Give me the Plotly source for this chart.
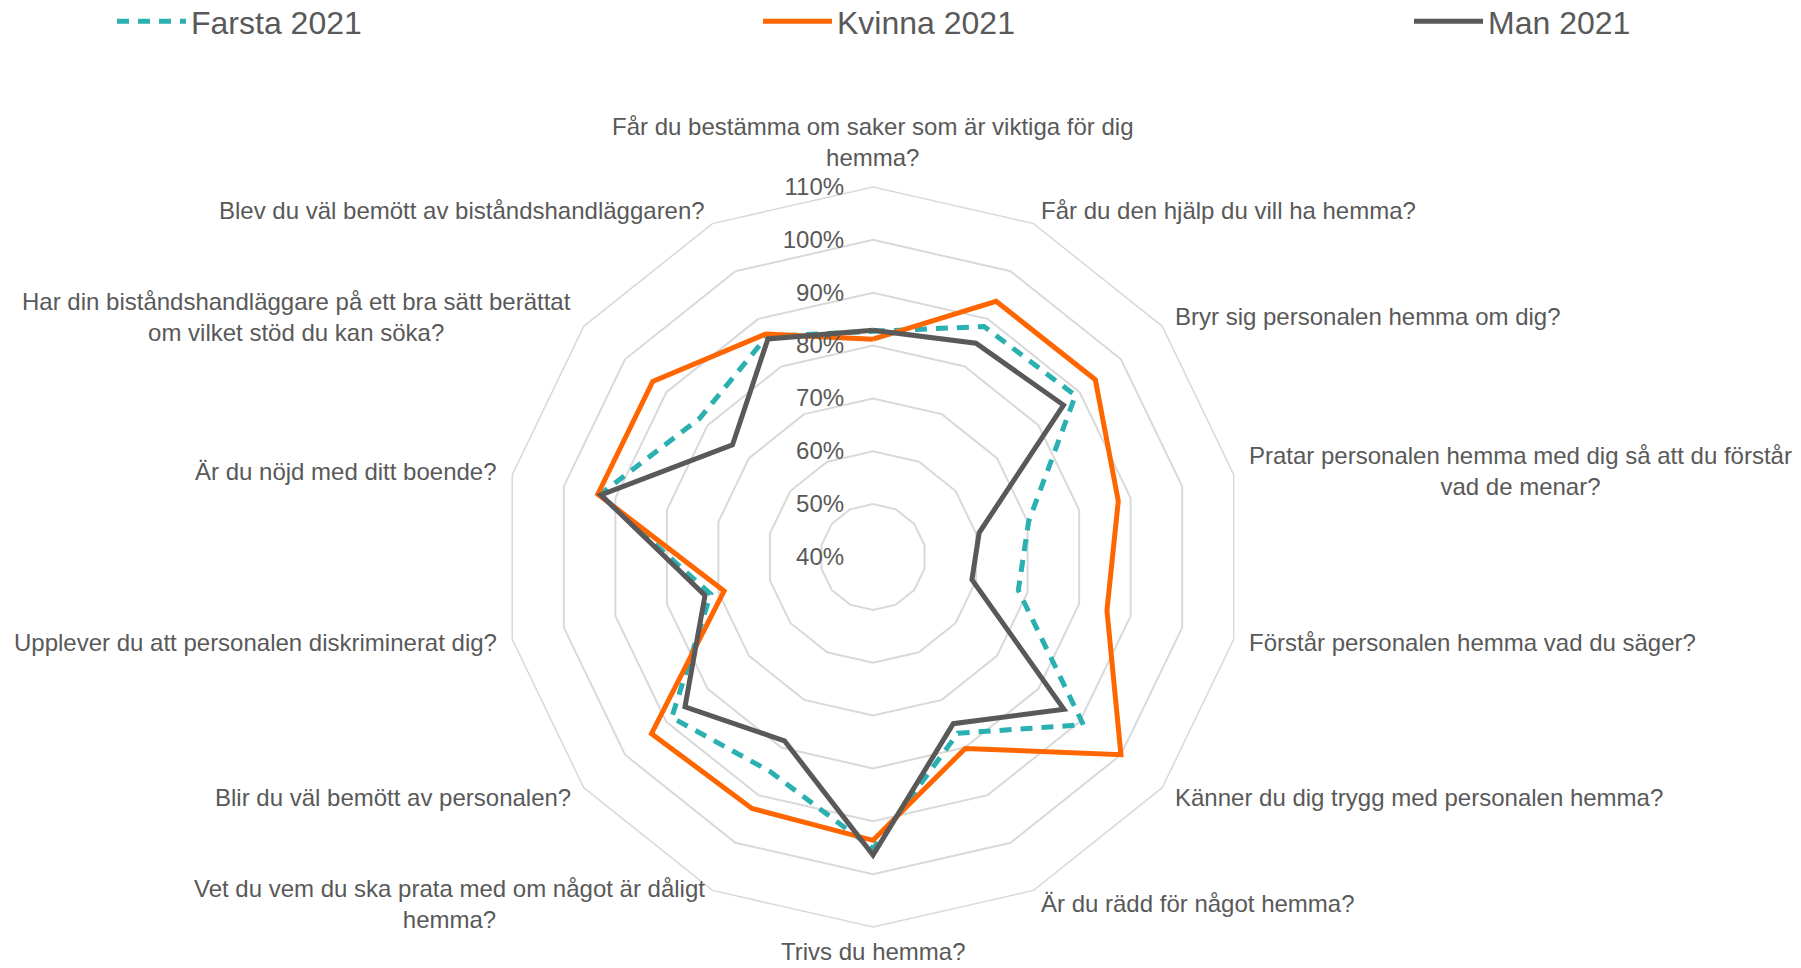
import math
import plotly.graph_objects as go

categories = [
    "Får du bestämma om saker som är viktiga för dig<br>hemma?",
    "Får du den hjälp du vill ha hemma?",
    "Bryr sig personalen hemma om dig?",
    "Pratar personalen hemma med dig så att du förstår<br>vad de menar?",
    "Förstår personalen hemma vad du säger?",
    "Känner du dig trygg med personalen hemma?",
    "Är du rädd för något hemma?",
    "Trivs du hemma?",
    "Vet du vem du ska prata med om något är dåligt<br>hemma?",
    "Blir du väl bemött av personalen?",
    "Upplever du att personalen diskriminerat dig?",
    "Är du nöjd med ditt boende?",
    "Har din biståndshandläggare på ett bra sätt berättat<br>om vilket stöd du kan söka?",
    "Blev du väl bemött av biståndshandläggaren?",
]

farsta_2021 = [82.7, 88.4, 89.0, 70.2, 68.2, 90.9, 77.0, 95.2, 85.0, 88.7, 71.5, 93.0, 82.0, 86.3]
kvinna_2021 = [81.2, 93.7, 93.8, 87.6, 85.4, 100.0, 80.2, 93.6, 92.8, 93.6, 68.9, 93.4, 93.3, 86.8]
man_2021 = [82.9, 84.9, 86.1, 60.6, 59.2, 86.2, 75.0, 96.4, 78.6, 85.5, 72.6, 92.8, 74.0, 85.8]

radial_ticks = [40, 50, 60, 70, 80, 90, 100, 110]
tick_pad = "\u00a0\u00a0\u00a0\u2009"

series = [
    ("Farsta 2021", farsta_2021, "#2BB0B1", "12px,9px", "legend", 118),
    ("Kvinna 2021", kvinna_2021, "#FF6600", "solid", "legend2", 764),
    ("Man 2021", man_2021, "#595959", "solid", "legend3", 1415),
]

W, H = 1801, 968
cx, cy, R = 873, 557, 370   # polar centre and outer radius in px
label_gap = 15
bottom_gap = 10

fig = go.Figure()
legends = {}
for name, vals, color, dash, lg, lx in series:
    fig.add_trace(go.Scatterpolar(
        r=vals + vals[:1],
        theta=categories + categories[:1],
        mode="lines",
        name=name,
        legend=lg,
        showlegend=True,
        line=dict(color=color, width=5, dash=dash),
        hoverinfo="skip",
    ))
    legends[lg] = dict(
        orientation="h",
        xref="paper", yref="paper",
        x=(lx - 6) / W, y=1.0 + 6 / H, xanchor="left", yanchor="top",
        itemwidth=69,
        font=dict(size=32, color="#595959"),
        bgcolor="rgba(0,0,0,0)",
    )

# category labels placed around the outer polygon, Excel style (centred lines)
annotations = []
n = len(categories)
for k, cat in enumerate(categories):
    ang = 2 * math.pi * k / n
    s, c = math.sin(ang), math.cos(ang)
    gap = bottom_gap if c < -0.99 else label_gap
    px = cx + (R + gap) * s
    py = cy - (R + gap) * c
    if abs(s) < 0.01:
        xa = "center"
        ya = "bottom" if c > 0 else "top"
    else:
        xa = "left" if s > 0 else "right"
        ya = "middle"
    annotations.append(dict(
        x=px / W, y=1 - py / H, xref="paper", yref="paper",
        text=cat, showarrow=False, xanchor=xa, yanchor=ya, align="center",
        borderpad=0,
        font=dict(size=24, color="#595959"),
    ))

fig.update_layout(
    width=W, height=H,
    showlegend=True,
    margin=dict(l=0, r=0, t=0, b=0, autoexpand=False),
    paper_bgcolor="white",
    plot_bgcolor="white",
    font=dict(family="Liberation Sans, Arial, sans-serif", size=24, color="#595959"),
    polar=dict(
        domain=dict(x=[(cx - R) / W, (cx + R) / W], y=[(H - cy - R) / H, (H - cy + R) / H]),
        gridshape="linear",
        bgcolor="white",
        radialaxis=dict(
            range=[40, 110],
            tickvals=radial_ticks,
            ticktext=[f"{v}%{tick_pad}" for v in radial_ticks],
            angle=90,
            tickangle=90,
            side="counterclockwise",
            showline=False,
            ticks="",
            gridcolor="#D9D9D9",
            gridwidth=1.5,
            tickfont=dict(size=24, color="#595959"),
        ),
        angularaxis=dict(
            rotation=90,
            direction="clockwise",
            showgrid=False,
            showline=True,
            linecolor="#D9D9D9",
            linewidth=1.5,
            ticks="",
            showticklabels=False,
        ),
    ),
    annotations=annotations,
    **legends,
)

fig.write_html("out.html", config={"displayModeBar": False},
               post_script="document.body.style.margin='0';")
